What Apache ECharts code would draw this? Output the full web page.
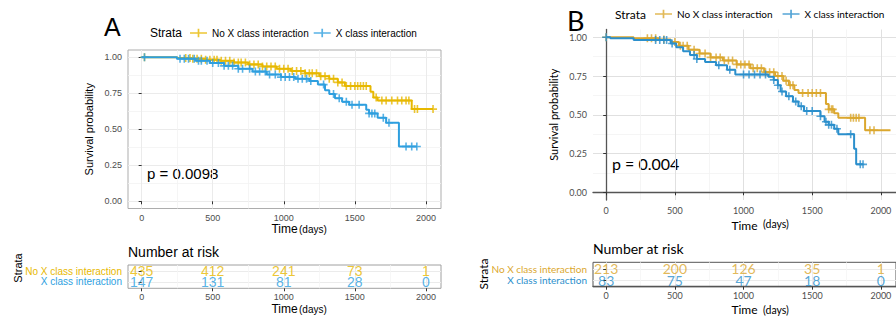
<!DOCTYPE html>
<html>
<head>
<meta charset="utf-8">
<script src="https://cdn.jsdelivr.net/npm/echarts@6/dist/echarts.min.js"></script>
<style>
  html, body { margin: 0; padding: 0; background: #fff; }
  #chart { width: 896px; height: 317px; }
</style>
</head>
<body>
<div id="chart"></div>
<script>
// ---- data ----
const strata = ['No X class interaction', 'X class interaction']
const timeTicks = [0, 500, 1000, 1500, 2000]
const timeMinor = [250, 750, 1250, 1750]
const probTicks = [0, 0.25, 0.5, 0.75, 1]
const probMinor = [0.125, 0.375, 0.625, 0.875]
const riskTimes = [0, 500, 1000, 1500, 2000]

// panel A
const goldA_t = [0, 250, 350, 450, 550, 650, 750, 850, 950, 1050, 1150, 1250, 1320, 1380, 1430, 1610, 1630, 1660, 1900, 2050]
const goldA_s = [1, 0.995, 0.99, 0.983, 0.975, 0.963, 0.95, 0.935, 0.92, 0.905, 0.888, 0.868, 0.85, 0.825, 0.8, 0.76, 0.72, 0.7, 0.64, 0.64]
const blueA_t = [0, 250, 380, 480, 580, 680, 780, 880, 980, 1080, 1180, 1240, 1290, 1320, 1360, 1410, 1460, 1580, 1600, 1660, 1720, 1810, 1936]
const blueA_s = [1, 0.99, 0.975, 0.96, 0.94, 0.92, 0.9, 0.88, 0.862, 0.85, 0.835, 0.81, 0.77, 0.745, 0.715, 0.69, 0.67, 0.635, 0.61, 0.58, 0.545, 0.38, 0.38]
const goldA_cens = [20, 310, 340, 360, 390, 420, 450, 480, 510, 530, 560, 590, 620, 650, 680, 700, 730, 760, 790, 820, 850, 880, 910, 940, 970, 1000, 1030, 1060, 1090, 1120, 1150, 1180, 1200, 1230, 1260, 1290, 1320, 1350, 1380, 1410, 1440, 1470, 1500, 1520, 1540, 1560, 1580, 1650, 1690, 1720, 1760, 1800, 1830, 1860, 1880, 1920, 1940, 2050]
const blueA_cens = [20, 270, 300, 330, 370, 400, 420, 460, 500, 540, 580, 610, 640, 680, 710, 760, 800, 830, 870, 900, 940, 980, 1010, 1040, 1070, 1100, 1130, 1160, 1190, 1280, 1350, 1390, 1440, 1480, 1530, 1600, 1620, 1640, 1700, 1740, 1860, 1900, 1936]
const goldA_risk = [435, 412, 241, 73, 1]
const blueA_risk = [147, 131, 81, 28, 0]

// panel B
const goldB_t = [0, 200, 380, 470, 530, 600, 680, 760, 850, 950, 1050, 1150, 1230, 1290, 1330, 1370, 1400, 1600, 1620, 1660, 1690, 1885, 2070]
const goldB_s = [1, 0.994, 0.985, 0.97, 0.945, 0.92, 0.895, 0.87, 0.85, 0.825, 0.8, 0.775, 0.75, 0.72, 0.69, 0.66, 0.64, 0.57, 0.535, 0.51, 0.48, 0.4, 0.4]
const blueB_t = [0, 30, 200, 470, 510, 560, 610, 660, 720, 800, 880, 940, 1180, 1220, 1250, 1270, 1310, 1360, 1400, 1440, 1560, 1590, 1620, 1660, 1690, 1805, 1820, 1870]
const blueB_s = [1, 0.994, 0.983, 0.96, 0.935, 0.91, 0.885, 0.86, 0.84, 0.82, 0.79, 0.76, 0.745, 0.725, 0.69, 0.65, 0.62, 0.585, 0.555, 0.525, 0.49, 0.455, 0.435, 0.41, 0.375, 0.28, 0.18, 0.18]
const goldB_cens = [0, 300, 330, 360, 420, 500, 540, 560, 590, 640, 680, 720, 760, 800, 830, 860, 890, 920, 950, 980, 1010, 1040, 1070, 1100, 1130, 1160, 1190, 1220, 1250, 1280, 1310, 1340, 1360, 1430, 1470, 1500, 1530, 1560, 1620, 1640, 1650, 1780, 1800, 1820, 1840, 1920, 1950]
const blueB_cens = [0, 360, 390, 420, 440, 480, 640, 660, 820, 900, 1000, 1040, 1080, 1120, 1160, 1220, 1250, 1280, 1330, 1380, 1420, 1460, 1500, 1560, 1600, 1620, 1640, 1680, 1780, 1850, 1870]
const goldB_risk = [213, 200, 126, 35, 1]
const blueB_risk = [83, 75, 47, 18, 0]

// ---- drawing ----
const CROSS = 'path://M4,0H6V4H10V6H6V10H4V6H0V4H4Z'
const LEGEND_ICON = 'path://M0,4.1H20V5.9H0Z M9,0H11V10H9Z'

// KM value in effect at time t (last step at or before t)
const stepAt = (ts, ss, t) => {
  let v = ss[0]
  for (let i = 0; i < ts.length; i += 1) if (ts[i] <= t) v = ss[i]
  return v
}

const panels = [
  {
    key: 'A', font: 'Liberation Sans', gold: '#E7B800', blue: '#2E9FDF',
    main: { left: 128, top: 50, width: 313, height: 158.5 },
    table: { left: 128, top: 265, width: 313, height: 23.3 },
    xMin: -96, xMax: 2106, classic: false,
    mainLabelMargin: 5, mainNameGap: 14.5, tableLabelMargin: 4, tableNameGap: 14.5,
    goldT: goldA_t, goldS: goldA_s, blueT: blueA_t, blueS: blueA_s,
    goldC: goldA_cens, blueC: blueA_cens, goldR: goldA_risk, blueR: blueA_risk,
    legend: { left: 190, top: 28, itemGap: 5 },
    lineW: 2, crossSize: 8
  },
  {
    key: 'B', font: 'Lato', gold: '#DBA72E', blue: '#2B8FCC',
    main: { left: 593, top: 29.5, width: 315, height: 170.5 },
    table: { left: 593, top: 262.3, width: 315, height: 24.4 },
    xMin: -96, xMax: 2110, classic: true,
    mainLabelMargin: 6, mainNameGap: 18, tableLabelMargin: 4.5, tableNameGap: 17,
    goldT: goldB_t, goldS: goldB_s, blueT: blueB_t, blueS: blueB_s,
    goldC: goldB_cens, blueC: blueB_cens, goldR: goldB_risk, blueR: blueB_risk,
    legend: { left: 655, top: 9, itemGap: 10 },
    lineW: 2, crossSize: 8
  }
]

const grid = []
const xAxis = []
const yAxis = []
const series = []
const legend = []

const labelGrey = '#4d4d4d'

panels.forEach((p) => {
  const gMain = grid.length
  grid.push({
    ...p.main, containLabel: false,
    show: !p.classic, borderColor: '#adadad', borderWidth: 1, backgroundColor: 'transparent'
  })
  const gTable = grid.length
  grid.push({
    ...p.table, containLabel: false,
    show: true, borderColor: p.classic ? '#555' : '#a0a0a0', borderWidth: 1, backgroundColor: 'transparent'
  })

  const axisLineCfg = p.classic
    ? { show: true, lineStyle: { color: '#555', width: 1.3 } }
    : { show: false }

  // main x (major) + minor
  const xMain = xAxis.length
  xAxis.push({
    gridIndex: gMain, type: 'value', min: p.xMin, max: p.xMax,
    axisLine: axisLineCfg,
    axisTick: { show: true, length: 3, customValues: timeTicks, lineStyle: { color: '#333' } },
    axisLabel: {
      customValues: timeTicks, color: labelGrey, fontSize: 9, fontFamily: p.font, margin: p.mainLabelMargin,
      formatter: (v) => String(v)
    },
    splitLine: { show: true, lineStyle: { color: p.classic ? '#e0e0e0' : '#ebebeb', width: 1 } },
    name: 'Time', nameLocation: 'middle', nameGap: p.mainNameGap,
    nameTextStyle: { color: '#000', fontSize: 12, fontFamily: p.font }
  })
  xAxis.push({
    gridIndex: gMain, type: 'value', min: p.xMin, max: p.xMax,
    axisLine: { show: false }, axisLabel: { show: false },
    axisTick: { show: false, customValues: timeMinor },
    splitLine: { show: true, lineStyle: { color: '#f2f2f2', width: 0.8 } }
  })
  const yMain = yAxis.length
  yAxis.push({
    gridIndex: gMain, type: 'value', min: -0.05, max: 1.05,
    axisLine: axisLineCfg,
    axisTick: { show: true, length: 3, customValues: probTicks, lineStyle: { color: '#333' } },
    axisLabel: {
      customValues: probTicks, color: labelGrey, fontSize: 9, fontFamily: p.font, margin: 6,
      formatter: (v) => v.toFixed(2)
    },
    splitLine: { show: true, lineStyle: { color: p.classic ? '#e0e0e0' : '#ebebeb', width: 1 } },
    name: 'Survival probability', nameLocation: 'middle', nameGap: 34, nameRotate: 90,
    nameTextStyle: { color: '#000', fontSize: 11, fontFamily: p.font }
  })
  yAxis.push({
    gridIndex: gMain, type: 'value', min: -0.05, max: 1.05,
    axisLine: { show: false }, axisLabel: { show: false },
    axisTick: { show: false, customValues: probMinor },
    splitLine: { show: true, lineStyle: { color: '#f2f2f2', width: 0.8 } }
  })

  // table axes
  const xTab = xAxis.length
  xAxis.push({
    gridIndex: gTable, type: 'value', min: p.xMin, max: p.xMax,
    axisLine: axisLineCfg,
    axisTick: { show: true, length: 3, customValues: timeTicks, lineStyle: { color: '#333' } },
    axisLabel: {
      customValues: timeTicks, color: labelGrey, fontSize: 9, fontFamily: p.font, margin: p.tableLabelMargin,
      formatter: (v) => String(v)
    },
    splitLine: { show: true, lineStyle: { color: '#ebebeb', width: 1 } },
    name: 'Time', nameLocation: 'middle', nameGap: p.tableNameGap,
    nameTextStyle: { color: '#000', fontSize: 12, fontFamily: p.font }
  })
  xAxis.push({
    gridIndex: gTable, type: 'value', min: p.xMin, max: p.xMax,
    axisLine: { show: false }, axisLabel: { show: false },
    axisTick: { show: false, customValues: timeMinor },
    splitLine: { show: true, lineStyle: { color: '#f5f5f5', width: 0.8 } }
  })
  const yTab = yAxis.length
  yAxis.push({
    gridIndex: gTable, type: 'value', min: 0.4, max: 2.6,
    axisLine: { show: false },
    axisTick: { show: true, length: 3, customValues: [1, 2], lineStyle: { color: '#333' } },
    axisLabel: {
      customValues: [1, 2], margin: 6, fontSize: 10, fontFamily: p.font,
      formatter: (v) => (v === 2 ? '{g|' + strata[0] + '}' : '{b|' + strata[1] + '}'),
      rich: {
        g: { color: p.gold, fontSize: 10, fontFamily: p.font },
        b: { color: p.blue, fontSize: 10, fontFamily: p.font }
      }
    },
    splitLine: { show: true, lineStyle: { color: '#ebebeb', width: 1 } }
  })

  // curves
  series.push({
    type: 'line', name: p.key + ' curve 1', xAxisIndex: xMain, yAxisIndex: yMain,
    step: 'end', symbol: 'none', silent: true, z: 3,
    lineStyle: { color: p.gold, width: p.lineW }, itemStyle: { color: p.gold },
    data: p.goldT.map((t, i) => [t, p.goldS[i]])
  })
  series.push({
    type: 'line', name: p.key + ' curve 2', xAxisIndex: xMain, yAxisIndex: yMain,
    step: 'end', symbol: 'none', silent: true, z: 4,
    lineStyle: { color: p.blue, width: p.lineW }, itemStyle: { color: p.blue },
    data: p.blueT.map((t, i) => [t, p.blueS[i]])
  })
  // censor marks
  series.push({
    type: 'scatter', name: strata[0], xAxisIndex: xMain, yAxisIndex: yMain,
    symbol: CROSS, symbolSize: p.crossSize, silent: true, z: 3,
    itemStyle: { color: p.gold },
    data: p.goldC.map((t) => [t, stepAt(p.goldT, p.goldS, t)])
  })
  series.push({
    type: 'scatter', name: strata[1], xAxisIndex: xMain, yAxisIndex: yMain,
    symbol: CROSS, symbolSize: p.crossSize, silent: true, z: 4,
    itemStyle: { color: p.blue },
    data: p.blueC.map((t) => [t, stepAt(p.blueT, p.blueS, t)])
  })
  // number at risk
  const riskLabel = (color) => ({
    show: true, position: 'inside', color, fontSize: 14, fontFamily: p.font,
    formatter: (d) => String(d.value[2])
  })
  series.push({
    type: 'scatter', name: p.key + ' risk 1', xAxisIndex: xTab, yAxisIndex: yTab,
    symbolSize: 0, silent: true, z: 5, itemStyle: { color: 'transparent' },
    label: riskLabel(p.gold),
    data: riskTimes.map((t, i) => [t, 2, p.goldR[i]])
  })
  series.push({
    type: 'scatter', name: p.key + ' risk 2', xAxisIndex: xTab, yAxisIndex: yTab,
    symbolSize: 0, silent: true, z: 5, itemStyle: { color: 'transparent' },
    label: riskLabel(p.blue),
    data: riskTimes.map((t, i) => [t, 1, p.blueR[i]])
  })

  legend.push({
    left: p.legend.left, top: p.legend.top, width: 320, orient: 'horizontal',
    itemWidth: 17, itemHeight: 9, itemGap: p.legend.itemGap, icon: LEGEND_ICON,
    selectedMode: false, padding: 0,
    textStyle: { color: '#000', fontSize: 10, fontFamily: p.font },
    data: [
      { name: strata[0], itemStyle: { color: p.gold } },
      { name: strata[1], itemStyle: { color: p.blue } }
    ]
  })
})

const txt = (x, y, text, size, font, extra) => ({
  type: 'text', x, y, silent: true,
  style: { text, fontSize: size, fontFamily: font, fill: '#000', align: 'left', verticalAlign: 'middle', ...(extra || {}) }
})

const graphic = [
  txt(104, 27, 'A', 25, 'Liberation Sans'),
  txt(150, 33, 'Strata', 12, 'Liberation Sans'),
  txt(147, 173, 'p = 0.0098', 15, 'Liberation Sans'),
  txt(299, 229, '(days)', 10, 'Liberation Sans'),
  txt(128, 252, 'Number at risk', 14, 'Liberation Sans'),
  txt(299, 309, '(days)', 10, 'Liberation Sans'),
  { ...txt(18, 268, 'Strata', 11, 'Liberation Sans', { align: 'center' }), rotation: Math.PI / 2 },
  txt(567, 20, 'B', 27, 'Lato'),
  txt(615, 14, 'Strata', 12, 'Lato'),
  txt(612, 163, 'p = 0.004', 16, 'Lato'),
  txt(763, 224, '(days)', 10.5, 'Lato'),
  txt(593, 248, 'Number at risk', 14, 'Lato'),
  txt(763, 310, '(days)', 10.5, 'Lato'),
  { ...txt(483, 274, 'Strata', 12, 'Lato', { align: 'center' }), rotation: Math.PI / 2 }
]

const chart = echarts.init(document.getElementById('chart'), null, { renderer: 'svg' })
chart.setOption({
  animation: false,
  backgroundColor: '#fff',
  grid,
  xAxis,
  yAxis,
  legend,
  series,
  graphic
})
</script>
</body>
</html>
